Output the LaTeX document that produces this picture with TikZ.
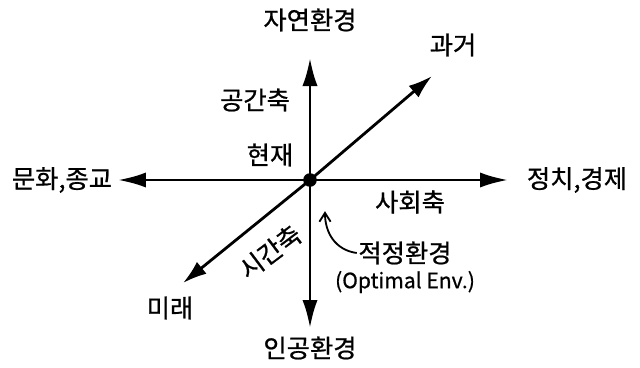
\documentclass[tikz,border=0pt]{standalone}
\usepackage{fontspec}
\setmainfont{Noto Sans CJK KR}[FakeBold=0.8]
\usetikzlibrary{arrows.meta}
\tikzset{
  axis/.style={line width=2pt, -{Latex[length=0.7cm, width=0.38cm]}},
  lbl/.style={font=\fontsize{18}{20}\selectfont, inner sep=1pt},
  note/.style={font=\fontsize{15}{17}\selectfont, inner sep=1pt}
}
\begin{document}
\begin{tikzpicture}
    \useasboundingbox (-7.75,-4.675) rectangle (8.25,4.5);
    % Center point (present)
    \node (O) at (0,0) [circle, fill=black, inner sep=0pt, minimum size=0.34cm] {};

    % Axis end points
    \coordinate (top) at (0,3.05);
    \coordinate (bottom) at (0,-3.7);
    \coordinate (left) at (-4.8,0);
    \coordinate (right) at (4.95,0);
    \coordinate (past) at (3.05,2.6);
    \coordinate (future) at (-3.175,-2.575);

    % Axes
    \draw[axis] (O.center) -- (top);
    \draw[axis] (O.center) -- (bottom);
    \draw[axis] (O.center) -- (left);
    \draw[axis] (O.center) -- (right);
    \draw[axis, -{Latex[length=0.6cm, width=0.38cm]}] (O.center) -- (past);
    \draw[axis, -{Latex[length=0.6cm, width=0.38cm]}] (O.center) -- (future);

    % Axis labels
    \node (nature) at (0,4.0) [lbl] {자연환경};
    \node (artificial) at (0,-4.2) [lbl] {인공환경};
    \node (culture) at (-6.2,0) [lbl] {문화,종교};
    \node (politics) at (6.675,0) [lbl] {정치,경제};
    \node (pastlbl) at (3.575,3.375) [lbl] {과거};
    \node (futurelbl) at (-3.5,-3.2) [lbl] {미래};
    \node (space) at (-1.375,2.0) [lbl] {공간축};
    \node (now) at (-1.0,0.625) [lbl] {현재};
    \node (social) at (2.5,-0.55) [lbl] {사회축};
    \node (time) at (-1.0,-1.8) [lbl, rotate=37, inner sep=0pt] {시간축};

    % Optimal environment
    \node (optimal) at (2.375,-1.825) [lbl] {적정환경};
    \node (optimalen) at (2.375,-2.55) [note] {(Optimal Env.)};
    \coordinate (opttip) at (0.375,-0.78);
    \draw[line width=1.3pt, -{Straight Barb[length=0.22cm, width=0.28cm]}]
        (optimal.west) .. controls (0.62,-1.75) and (0.375,-1.3) .. (opttip);
\end{tikzpicture}
\end{document}
